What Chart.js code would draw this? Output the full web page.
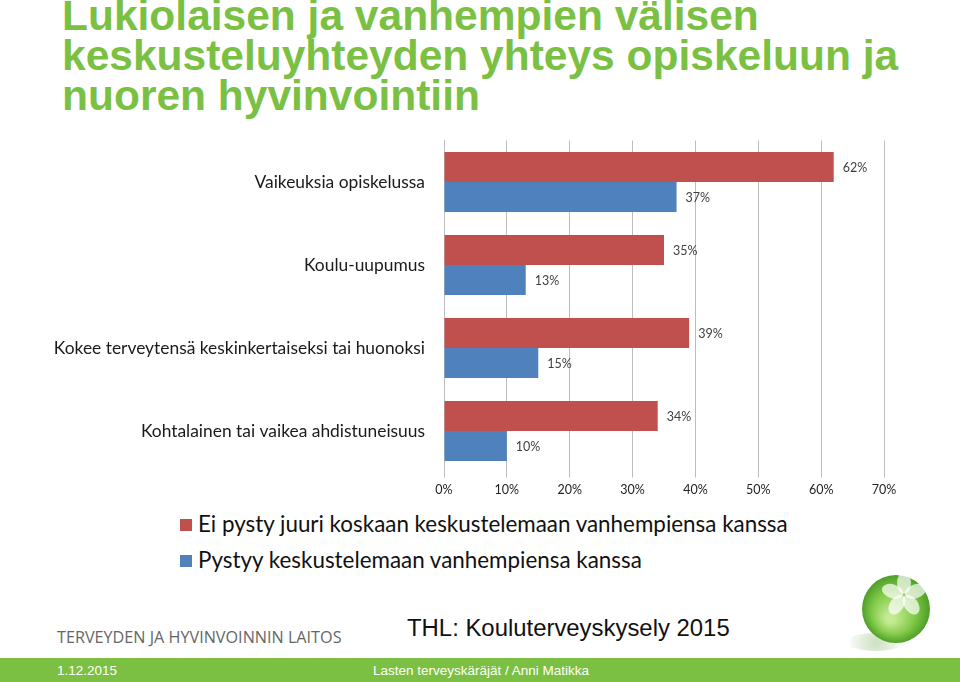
<!DOCTYPE html>
<html>
<head>
<meta charset="utf-8">
<script src="https://cdn.jsdelivr.net/npm/chart.js@4.4.1/dist/chart.umd.min.js"></script>
<style>
  body { margin: 0; width: 960px; height: 682px; overflow: hidden; background: #fff; position: relative; }
  .title { position: absolute; left: 62px; top: -4px; font-family: "Liberation Sans", Arial, sans-serif; font-weight: bold; font-size: 42.5px; line-height: 40px; color: #7ac143; margin: 0; }
  #chartBox { position: absolute; left: 0; top: 130px; width: 960px; height: 370px; }
  .legend { position: absolute; left: 180px; font-family: Lato, sans-serif; font-size: 22.4px; color: #111; }
  .legend span { display: inline-block; width: 12px; height: 12px; margin-right: 6px; vertical-align: 1px; }
  .thl { position: absolute; left: 57px; top: 626px; font-family: "Open Sans", sans-serif; font-size: 16.2px; color: #666; }
  .source { position: absolute; left: 407px; top: 614px; font-family: "Liberation Sans", Arial, sans-serif; font-size: 23.9px; color: #111; }
  .footer { position: absolute; left: 0; top: 658px; width: 960px; height: 24px; background: #7bbf43; color: #fff; font-family: "Liberation Sans", Arial, sans-serif; font-size: 13.5px; }
  .footer div { position: absolute; top: 5px; }
  #ball { position: absolute; left: 850px; top: 565px; }
</style>
</head>
<body>
<h1 class="title">Lukiolaisen ja vanhempien välisen<br>keskusteluyhteyden yhteys opiskeluun ja<br>nuoren hyvinvointiin</h1>

<div id="chartBox"><canvas id="chart"></canvas></div>

<div class="legend" style="top:510px"><span style="background:#c0504d"></span>Ei pysty juuri koskaan keskustelemaan vanhempiensa kanssa</div>
<div class="legend" style="top:546px"><span style="background:#4f81bd"></span>Pystyy keskustelemaan vanhempiensa kanssa</div>

<div class="thl">TERVEYDEN JA HYVINVOINNIN LAITOS</div>
<div class="source">THL: Kouluterveyskysely 2015</div>
<canvas id="ball" width="90" height="90"></canvas>

<div class="footer">
  <div style="left:57px">1.12.2015</div>
  <div style="left:373px">Lasten terveyskäräjät / Anni Matikka</div>
</div>

<script>
const categories = [
  "Vaikeuksia opiskelussa",
  "Koulu-uupumus",
  "Kokee terveytensä keskinkertaiseksi tai huonoksi",
  "Kohtalainen tai vaikea ahdistuneisuus"
];
const eiPysty = [62, 35, 39, 34];
const pystyy = [37, 13, 15, 10];
const seriesNames = [
  "Ei pysty juuri koskaan keskustelemaan vanhempiensa kanssa",
  "Pystyy keskustelemaan vanhempiensa kanssa"
];
const xTicks = [0, 10, 20, 30, 40, 50, 60, 70];

// value labels at bar ends (no datalabels plugin available offline)
const barLabels = {
  id: "barLabels",
  afterDatasetsDraw(chart) {
    const ctx = chart.ctx;
    ctx.save();
    ctx.font = "12.5px Lato, sans-serif";
    ctx.fillStyle = "#404040";
    ctx.textBaseline = "middle";
    chart.data.datasets.forEach((ds, i) => {
      chart.getDatasetMeta(i).data.forEach((bar, j) => {
        ctx.fillText(ds.data[j] + "%", bar.x + 9, bar.y + 1);
      });
    });
    ctx.restore();
  }
};

new Chart(document.getElementById("chart").getContext("2d"), {
  type: "bar",
  data: {
    labels: categories,
    datasets: [
      { label: seriesNames[0], data: eiPysty, backgroundColor: "#c0504d" },
      { label: seriesNames[1], data: pystyy, backgroundColor: "#4f81bd" }
    ]
  },
  options: {
    indexAxis: "y",
    responsive: true,
    maintainAspectRatio: false,
    animation: false,
    categoryPercentage: 0.72,
    barPercentage: 1,
    layout: { padding: { top: 10.5, right: 76, left: 0, bottom: 0 } },
    plugins: { legend: { display: false }, tooltip: { enabled: false } },
    scales: {
      x: {
        min: 0,
        max: 70,
        afterFit: (scale) => { scale.height = 27.5; scale.paddingLeft = 0; scale.paddingRight = 0; },
        afterBuildTicks: (scale) => { scale.ticks = xTicks.map((v) => ({ value: v })); },
        grid: { color: "#bdbdbd", tickLength: 5 },
        border: { display: false },
        ticks: {
          padding: 5,
          color: "#222",
          font: { family: "Lato", size: 12.5 },
          callback: (v) => v + "%"
        }
      },
      y: {
        afterFit: (scale) => { scale.width = 444; scale.paddingTop = 0; scale.paddingBottom = 0; },
        grid: { display: false, drawTicks: false, tickLength: 0 },
        border: { display: true, color: "#bdbdbd" },
        ticks: {
          padding: 19,
          color: "#1a1a1a",
          font: { family: "Lato", size: 17.4 }
        }
      }
    }
  },
  plugins: [barLabels]
});

// THL glass ball decoration
const b = document.getElementById("ball").getContext("2d");
const cx = 46, cy = 44, r = 34;
let sh = b.createRadialGradient(26, 78, 2, 26, 78, 30);
sh.addColorStop(0, "rgba(120,170,90,0.35)");
sh.addColorStop(1, "rgba(120,170,90,0)");
b.fillStyle = sh;
b.beginPath(); b.ellipse(26, 77, 30, 9, 0, 0, Math.PI * 2); b.fill();
let g = b.createRadialGradient(cx - 6, cy + 10, 4, cx, cy, r);
g.addColorStop(0, "#c4eb94");
g.addColorStop(0.55, "#86cc4c");
g.addColorStop(1, "#4e9f28");
b.fillStyle = g;
b.beginPath(); b.arc(cx, cy, r, 0, Math.PI * 2); b.fill();
b.fillStyle = "rgba(255,255,255,0.7)";
for (let k = 0; k < 5; k++) {
  const a = -Math.PI / 2 + k * 2 * Math.PI / 5;
  b.beginPath();
  b.ellipse(54 + Math.cos(a) * 12, 30 + Math.sin(a) * 12, 11, 7, a, 0, Math.PI * 2);
  b.fill();
}
</script>
</body>
</html>
